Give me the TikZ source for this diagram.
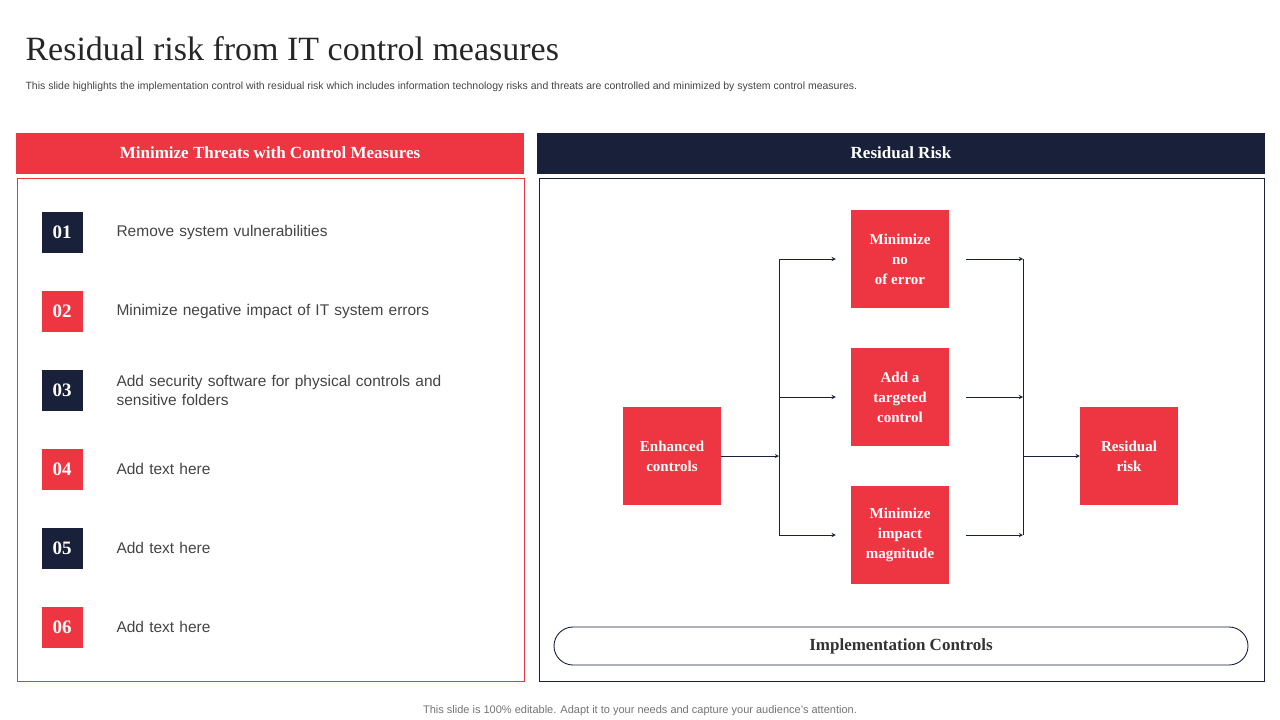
\documentclass[tikz,border=0pt]{standalone}
\usepackage{fontspec}
\setmainfont{Liberation Serif}
\setsansfont{Liberation Sans}
\definecolor{rd}{HTML}{EE3542}
\definecolor{nv}{HTML}{19203A}
\definecolor{tx}{HTML}{444444}
\begin{document}
\begin{tikzpicture}[x=1pt,y=-1pt,
  num/.style={minimum width=41pt,minimum height=41pt,inner sep=0pt,text=white,font=\bfseries\fontsize{19}{19}\selectfont},
  item/.style={anchor=west,text=tx,font=\sffamily\fontsize{15.5}{19}\selectfont,align=left,text width=360pt},
  rbox/.style={fill=rd,minimum width=98pt,minimum height=98pt,inner sep=2pt,text=white,align=center,font=\bfseries\fontsize{15}{20}\selectfont},
  arr/.style={draw=nv,line width=0.9pt,-stealth}]
\useasboundingbox (0,0) rectangle (1280,720);
\node[anchor=west,font=\fontsize{34}{34}\selectfont,text=black!85] (title) at (22,49) {Residual risk from IT control measures};
\node[anchor=west,font=\sffamily\fontsize{10.5}{12}\selectfont,text=tx] (sub) at (22,87) {This slide highlights the implementation control with residual risk which includes information technology risks and threats are controlled and minimized by system control measures.};
\node[fill=rd,minimum width=508pt,minimum height=41pt,text=white,font=\bfseries\fontsize{17}{17}\selectfont] (h1) at (270,153) {Minimize Threats with Control Measures};
\node[fill=nv,minimum width=728pt,minimum height=41pt,text=white,font=\bfseries\fontsize{17}{17}\selectfont] (h2) at (901,153) {Residual Risk};
\draw[rd,line width=0.8pt] (17,178) rectangle (524,681);
\draw[nv,line width=0.8pt] (539,178) rectangle (1264,681);
\foreach \n/\c/\y/\t in {01/nv/232/Remove system vulnerabilities,02/rd/311/Minimize negative impact of IT system errors,03/nv/390/{Add security software for physical controls and\\sensitive folders},04/rd/469/Add text here,05/nv/548/Add text here,06/rd/627/Add text here}{
  \node[num,fill=\c] (n\n) at (62,\y) {\n};
  \node[item] (t\n) at (113,\y) {\t};
}
\node[rbox] (enh) at (672,456) {Enhanced\\controls};
\node[rbox] (m1) at (900,259) {Minimize\\no\\of error};
\node[rbox] (m2) at (900,397) {Add a\\targeted\\control};
\node[rbox] (m3) at (900,535) {Minimize\\impact\\magnitude};
\node[rbox] (res) at (1129,456) {Residual\\risk};
\coordinate (sl) at (779,456);
\coordinate (sr) at (1023,456);
\draw[arr] (enh.east) -- (sl);
\draw[nv,line width=0.9pt] (779,259) -- (779,535);
\draw[nv,line width=0.9pt] (1023,259) -- (1023,535);
\foreach \m in {m1,m2,m3}{
  \draw[arr] (sl |- \m) -- ([xshift=-15pt]\m.west);
  \draw[arr] ([xshift=17pt]\m.east) -- (sr |- \m);
}
\draw[arr] (sr) -- (res.west);
\node[draw=nv,line width=0.9pt,rounded corners=19pt,minimum width=694pt,minimum height=38pt,font=\bfseries\fontsize{17}{17}\selectfont,text=black!80] (impl) at (901,646) {Implementation Controls};
\node[font=\sffamily\fontsize{11}{12}\selectfont,text=black!55] (foot) at (640,711) {This slide is 100\% editable. Adapt it to your needs and capture your audience's attention.};
\end{tikzpicture}
\end{document}
